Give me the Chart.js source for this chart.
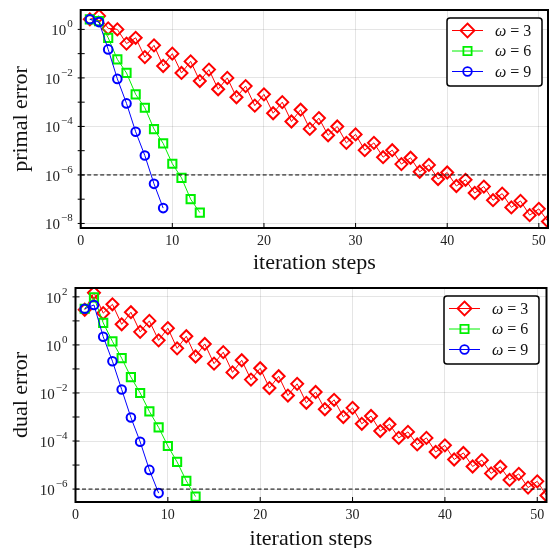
<!DOCTYPE html>
<html>
<head>
<meta charset="utf-8">
<script src="https://cdn.jsdelivr.net/npm/chart.js@4.4.0/dist/chart.umd.min.js"></script>
<style>
  html, body { margin: 0; padding: 0; background: #fff; width: 549px; height: 548px; overflow: hidden; }
  .panel { position: absolute; left: 0; width: 556px; }
</style>
</head>
<body>
<div class="panel" style="top:0;height:274px"><canvas id="primal"></canvas></div>
<div class="panel" style="top:280px;height:270px"><canvas id="dual"></canvas></div>
<script>
// iteration index for each series
const steps3 = Array.from({ length: 51 }, (_, i) => i + 1);
const steps6 = Array.from({ length: 13 }, (_, i) => i + 1);
const steps9 = Array.from({ length: 9 }, (_, i) => i + 1);
const omegas = [3, 6, 9];

// primal error
const primal3 = [2.6, 3.6, 1.1, 1.0, 0.26, 0.45, 7.2e-2, 0.22, 3.1e-2, 0.10,
  1.6e-2, 4.8e-2, 7.4e-3, 2.2e-2, 3.4e-3, 1.0e-2, 1.6e-3, 4.6e-3, 7.2e-4, 2.1e-3,
  3.5e-4, 1.0e-3, 1.6e-4, 4.9e-4, 7.9e-5, 2.2e-4, 4.3e-5, 1.0e-4, 2.1e-5, 4.7e-5,
  1.05e-5, 2.1e-5, 5.4e-6, 1.05e-5, 2.8e-6, 5.1e-6, 1.35e-6, 2.6e-6, 6.8e-7, 1.26e-6,
  3.5e-7, 6.3e-7, 1.8e-7, 3.3e-7, 9.1e-8, 1.7e-7, 4.6e-8, 8.5e-8, 2.2e-8, 4.0e-8, 1.2e-8];
const primal6 = [2.6, 2.2, 0.45, 5.8e-2, 1.6e-2, 2.1e-3, 5.9e-4, 7.8e-5, 2.0e-5, 2.9e-6, 7.6e-7, 1.0e-7, 2.8e-8];
const primal9 = [2.6, 2.0, 0.15, 9.1e-3, 8.9e-4, 6.0e-5, 6.3e-6, 4.3e-7, 4.3e-8];

// dual error
const dual3 = [29, 148, 21, 49, 7.2, 23, 3.5, 10, 1.55, 5.0,
  0.72, 2.3, 0.33, 1.1, 0.166, 0.50, 7.2e-2, 0.23, 3.6e-2, 0.107,
  1.6e-2, 5.0e-2, 7.8e-3, 2.4e-2, 3.9e-3, 1.1e-2, 2.1e-3, 5.2e-3, 1.0e-3, 2.4e-3,
  5.2e-4, 1.1e-3, 2.6e-4, 5.0e-4, 1.35e-4, 2.4e-4, 7.2e-5, 1.35e-4, 3.5e-5, 6.6e-5,
  1.7e-5, 3.2e-5, 8.7e-6, 1.6e-5, 4.5e-6, 8.5e-6, 2.4e-6, 4.3e-6, 1.15e-6, 2.1e-6, 5.4e-7];
const dual6 = [32, 95, 8.3, 1.4, 0.28, 4.6e-2, 1.0e-2, 1.7e-3, 3.7e-4, 6.2e-5, 1.35e-5, 2.2e-6, 4.9e-7];
const dual9 = [32, 46, 2.2, 0.21, 1.4e-2, 9.5e-4, 9.3e-5, 6.3e-6, 6.8e-7];

const tolerance = 1e-6;
const xLimits = [0, 51];
const xTicks = [0, 10, 20, 30, 40, 50];

const primalLimits = [6.5e-9, 6.3];
const primalDecades = [1, 1e-1, 1e-2, 1e-3, 1e-4, 1e-5, 1e-6, 1e-7, 1e-8];
const primalLabels = { 1: '0', 1e-2: '−2', 1e-4: '−4', 1e-6: '−6', 1e-8: '−8' };

const dualLimits = [2.9e-7, 234];
const dualDecades = [1e2, 1e1, 1, 1e-1, 1e-2, 1e-3, 1e-4, 1e-5, 1e-6];
const dualLabels = { 100: '2', 1: '0', 1e-2: '−2', 1e-4: '−4', 1e-6: '−6' };

const colors = ['#ff0000', '#00f000', '#0000ff'];
const markers = ['rectRot', 'rect', 'circle'];
const radii = [6, 5.8, 4.3];
const serif = "'Liberation Serif', 'DejaVu Serif', serif";

function pts(xs, ys) {
    return ys.map((v, i) => ({ x: xs[i], y: v }));
}

function marker(ctx, style, x, y, r) {
    ctx.beginPath();
    if (style === 'circle') {
        ctx.arc(x, y, r, 0, Math.PI * 2);
    } else if (style === 'rect') {
        const s = r * Math.SQRT1_2;
        ctx.rect(x - s, y - s, 2 * s, 2 * s);
    } else {
        ctx.moveTo(x, y - r); ctx.lineTo(x + r, y); ctx.lineTo(x, y + r); ctx.lineTo(x - r, y); ctx.closePath();
    }
    ctx.stroke();
}

// frame, inward ticks, superscript tick labels and the boxed legend
const decorations = {
    id: 'decorations',
    afterDatasetsDraw(chart, args, opts) {
        const ctx = chart.ctx;
        const a = chart.chartArea;
        const xs = chart.scales.x, ys = chart.scales.y;
        ctx.save();
        ctx.strokeStyle = '#000';
        ctx.lineWidth = 1;
        xTicks.forEach(v => {
            const px = xs.getPixelForValue(v);
            ctx.beginPath(); ctx.moveTo(px, a.bottom); ctx.lineTo(px, a.bottom - 5); ctx.stroke();
        });
        opts.decades.forEach(v => {
            const py = ys.getPixelForValue(v);
            ctx.beginPath(); ctx.moveTo(a.left - 3, py); ctx.lineTo(a.left + 4, py); ctx.stroke();
        });
        ctx.lineWidth = 2;
        ctx.strokeRect(a.left, a.top, a.right - a.left, a.bottom - a.top);

        // y tick labels as 10^n
        ctx.fillStyle = '#222';
        ctx.textBaseline = 'middle';
        ctx.textAlign = 'left';
        Object.keys(opts.labels).forEach(k => {
            const py = ys.getPixelForValue(Number(k));
            const exp = opts.labels[k];
            ctx.font = '11px ' + serif;
            const we = ctx.measureText(exp).width;
            ctx.font = '15px ' + serif;
            const wb = ctx.measureText('10').width;
            const xr = a.left - 8;
            ctx.fillText('10', xr - we - wb - 1, py + 2);
            ctx.font = '11px ' + serif;
            ctx.fillText(exp, xr - we, py - 5);
        });

        // legend
        const w = 95, h = 68;
        const bx = a.right - opts.legendInset - w, by = a.top + 8;
        ctx.fillStyle = '#fff';
        ctx.strokeStyle = '#000';
        ctx.lineWidth = 1.5;
        ctx.beginPath();
        ctx.roundRect(bx, by, w, h, 3);
        ctx.fill();
        ctx.stroke();
        chart.data.datasets.filter(d => d.legend).forEach((d, i) => {
            const ry = by + 12.5 + i * 20.5;
            ctx.strokeStyle = d.borderColor;
            ctx.lineWidth = 1;
            ctx.beginPath(); ctx.moveTo(bx + 5, ry); ctx.lineTo(bx + 36, ry); ctx.stroke();
            ctx.lineWidth = 1.8;
            marker(ctx, d.pointStyle, bx + 20.5, ry, d.legendRadius);
            ctx.fillStyle = '#111';
            ctx.font = 'italic 16px ' + serif;
            ctx.fillText('ω', bx + 48, ry + 1);
            const ww = ctx.measureText('ω').width;
            ctx.font = '16px ' + serif;
            ctx.fillText('= ' + d.omega, bx + 48 + ww + 4, ry + 1);
        });
        ctx.restore();
    }
};

function makeChart(id, s3, s6, s9, limits, decades, labels, title, layout) {
    const series = [[steps3, s3], [steps6, s6], [steps9, s9]];
    const datasets = series.map(([xs, ys], i) => ({
        label: 'ω = ' + omegas[i],
        omega: omegas[i],
        legend: true,
        legendRadius: radii[i] + (i === 0 ? 1 : 0),
        data: pts(xs, ys),
        borderColor: colors[i],
        borderWidth: 1,
        pointStyle: markers[i],
        pointRadius: radii[i],
        pointBorderWidth: 2,
        pointBorderColor: colors[i],
        pointBackgroundColor: 'rgba(255,255,255,0)',
        order: 3 - i,
        tension: 0
    }));
    datasets.push({
        label: 'tolerance',
        legend: false,
        data: [{ x: xLimits[0], y: tolerance }, { x: xLimits[1], y: tolerance }],
        borderColor: '#000',
        borderWidth: 1,
        borderDash: [4, 2.5],
        pointRadius: 0,
        order: 0
    });

    return new Chart(document.getElementById(id), {
        type: 'line',
        data: { datasets },
        options: {
            responsive: true,
            maintainAspectRatio: false,
            animation: false,
            layout: { padding: { top: layout.top, right: layout.right, left: 0, bottom: 0 } },
            plugins: {
                legend: { display: false },
                tooltip: { enabled: false },
                decorations: { decades, labels, legendInset: layout.inset }
            },
            scales: {
                x: {
                    type: 'linear',
                    min: xLimits[0],
                    max: xLimits[1],
                    afterBuildTicks: sc => { sc.ticks = xTicks.map(v => ({ value: v })); },
                    afterFit: sc => { sc.height = layout.xHeight; },
                    ticks: {
                        padding: 5,
                        color: '#222',
                        font: { family: serif, size: 14 },
                        maxRotation: 0
                    },
                    grid: { color: 'rgba(0,0,0,0.1)', drawTicks: false },
                    border: { display: false },
                    title: {
                        display: true,
                        text: 'iteration steps',
                        color: '#111',
                        font: { family: serif, size: 22, lineHeight: 1 },
                        padding: { top: 0, bottom: 0 }
                    }
                },
                y: {
                    type: 'logarithmic',
                    min: limits[0],
                    max: limits[1],
                    afterBuildTicks: sc => { sc.ticks = decades.map(v => ({ value: v })); },
                    afterFit: sc => { sc.width = layout.left; },
                    ticks: { display: false },
                    grid: {
                        drawTicks: false,
                        color: c => (c.tick && labels[c.tick.value] !== undefined) ? 'rgba(0,0,0,0.1)' : 'rgba(0,0,0,0)'
                    },
                    border: { display: false },
                    title: {
                        display: true,
                        text: title,
                        color: '#111',
                        font: { family: serif, size: 22, lineHeight: 1 },
                        padding: { top: 10, bottom: 0 }
                    }
                }
            }
        },
        plugins: [decorations]
    });
}

makeChart('primal', primal3, primal6, primal9, primalLimits, primalDecades, primalLabels, 'primal error',
    { top: 10, right: 6, left: 80.7, xHeight: 46, inset: 6 });
makeChart('dual', dual3, dual6, dual9, dualLimits, dualDecades, dualLabels, 'dual error',
    { top: 5, right: 9.5, left: 75.5, xHeight: 48, inset: 7.5 });
</script>
</body>
</html>
